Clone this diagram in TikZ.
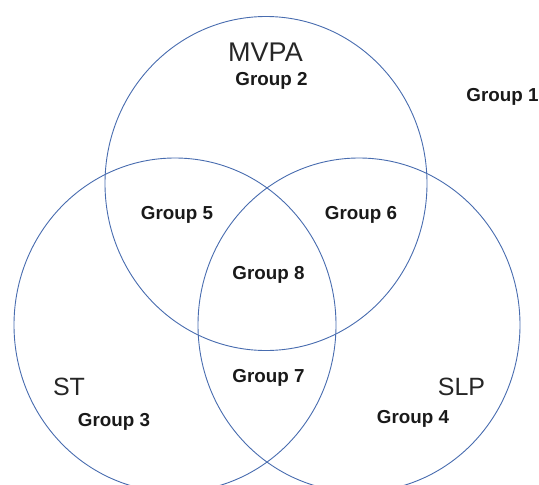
\documentclass[tikz,border=0pt]{standalone}
\usepackage{fontspec}
\setmainfont{Liberation Sans}
\definecolor{setblue}{RGB}{72,108,175}
\tikzset{
  setline/.style={draw=setblue,line width=0.9pt},
  setname/.style={font=\fontsize{25}{25}\selectfont,text=black!85},
  grouplabel/.style={font=\fontsize{18.8}{18.8}\selectfont\bfseries,text=black!90}
}
\begin{document}
\begin{tikzpicture}[x=1pt,y=-1pt]
    \useasboundingbox (0,0) rectangle (539,485);
    \clip (0,0) rectangle (539,485);
    % the three sets
    \draw[setline] (266,183.5) ellipse [x radius=161,y radius=167];
    \draw[setline] (175,325) ellipse [x radius=161,y radius=167];
    \draw[setline] (359,325) ellipse [x radius=161,y radius=167];
    % set names
    \node[setname,font=\fontsize{27}{27}\selectfont] (mvpa) at (265.5,52) {MVPA};
    \node[setname] (st) at (69,387) {ST};
    \node[setname] (slp) at (461.5,387) {SLP};
    % groups
    \node[grouplabel] (g1) at (502.5,97) {Group 1};
    \node[grouplabel] (g2) at (271.5,81) {Group 2};
    \node[grouplabel] (g3) at (114,422) {Group 3};
    \node[grouplabel] (g4) at (413,419) {Group 4};
    \node[grouplabel] (g5) at (177,215) {Group 5};
    \node[grouplabel] (g6) at (361,215) {Group 6};
    \node[grouplabel] (g7) at (268.5,378) {Group 7};
    \node[grouplabel] (g8) at (268.5,275) {Group 8};
\end{tikzpicture}
\end{document}
